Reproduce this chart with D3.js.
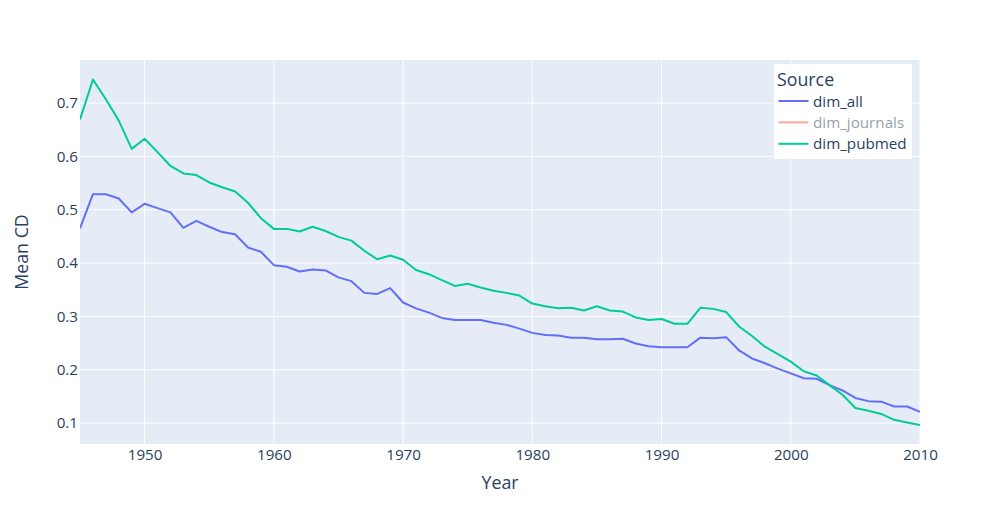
<!DOCTYPE html>
<html><head><meta charset="utf-8">
<script src="https://cdn.jsdelivr.net/npm/d3@7"></script>
<style>body{margin:0;background:#fff;}svg{display:block;font-family:"Open Sans",sans-serif;}</style>
</head><body><svg id="chart" width="1000" height="525"></svg>
<script>
const years = d3.range(1945, 2011);
const dimAll = [0.465,0.529,0.529,0.521,0.495,0.511,0.503,0.495,0.466,0.479,0.468,0.458,0.454,0.429,0.421,0.396,0.393,0.384,0.388,0.386,0.373,0.366,0.344,0.342,0.353,0.326,0.315,0.307,0.297,0.293,0.293,0.293,0.288,0.284,0.277,0.269,0.265,0.264,0.260,0.260,0.257,0.257,0.258,0.249,0.244,0.242,0.242,0.242,0.260,0.259,0.261,0.236,0.221,0.212,0.202,0.193,0.184,0.183,0.171,0.161,0.147,0.141,0.140,0.131,0.131,0.121];
const dimPubmed = [0.669,0.744,0.707,0.667,0.614,0.633,0.608,0.582,0.568,0.565,0.551,0.542,0.534,0.513,0.484,0.464,0.464,0.459,0.468,0.460,0.449,0.442,0.423,0.407,0.414,0.406,0.387,0.379,0.368,0.357,0.361,0.354,0.348,0.344,0.339,0.324,0.319,0.315,0.316,0.311,0.319,0.311,0.309,0.298,0.293,0.295,0.286,0.286,0.316,0.314,0.308,0.281,0.263,0.243,0.229,0.215,0.197,0.189,0.171,0.153,0.128,0.123,0.117,0.106,0.101,0.096];
const xTicks = [1950,1960,1970,1980,1990,2000,2010];
const yTicks = [0.1,0.2,0.3,0.4,0.5,0.6,0.7];
const seriesNames = ["dim_all","dim_journals","dim_pubmed"];
const seriesColors = ["#636efa","#EF553B","#00cc96"];
const seriesVisible = [true,false,true];

const svg = d3.select("#chart");
const L=80,R=920,T=60,B=444;
const x = d3.scaleLinear().domain([1945,2010]).range([L,R]);
const y = d3.scaleLinear().domain([0.0606,0.7807]).range([B,T]);
const textColor = "#2a3f5f";
const tickFs = 15.2, titleFs = 17.8;

svg.append("rect").attr("x",L).attr("y",T).attr("width",R-L).attr("height",B-T).attr("fill","#e5ecf6");
const gx = svg.append("g");
xTicks.forEach(t=>{
  gx.append("line").attr("x1",x(t)).attr("x2",x(t)).attr("y1",T).attr("y2",B).attr("stroke","#fff").attr("stroke-width",1);
});
yTicks.forEach(t=>{
  gx.append("line").attr("x1",L).attr("x2",R).attr("y1",y(t)).attr("y2",y(t)).attr("stroke","#fff").attr("stroke-width",1);
});

const xAxis = d3.axisBottom(x).tickValues(xTicks).tickFormat(d3.format("d")).tickSize(0).tickPadding(5);
const ax = svg.append("g").attr("transform",`translate(0,${B})`).call(xAxis);
ax.select(".domain").remove();
ax.selectAll("text").attr("font-size",tickFs).attr("fill",textColor).attr("font-family","'Open Sans',sans-serif");
const yAxis = d3.axisLeft(y).tickValues(yTicks).tickFormat(d3.format(".1f")).tickSize(0).tickPadding(2);
const ay = svg.append("g").attr("transform",`translate(${L},0)`).call(yAxis);
ay.select(".domain").remove();
ay.selectAll("text").attr("font-size",tickFs).attr("fill",textColor).attr("font-family","'Open Sans',sans-serif");

svg.append("text").attr("x",(L+R)/2).attr("y",489).attr("text-anchor","middle").attr("font-size",titleFs).attr("fill",textColor).text("Year");
svg.append("text").attr("transform",`translate(28,${(T+B)/2}) rotate(-90)`).attr("text-anchor","middle").attr("font-size",titleFs).attr("fill",textColor).text("Mean CD");

const line = d3.line().x((d,i)=>x(years[i])).y(d=>y(d));
svg.append("clipPath").attr("id","clip").append("rect").attr("x",L).attr("y",T).attr("width",R-L).attr("height",B-T);
const lines = svg.append("g").attr("clip-path","url(#clip)");
lines.append("path").datum(dimAll).attr("d",line).attr("fill","none").attr("stroke",seriesColors[0]).attr("stroke-width",2).attr("stroke-linejoin","round");
lines.append("path").datum(dimPubmed).attr("d",line).attr("fill","none").attr("stroke",seriesColors[2]).attr("stroke-width",2).attr("stroke-linejoin","round");

// legend
const lg = svg.append("g").attr("transform","translate(774,64)");
lg.append("rect").attr("width",138).attr("height",95).attr("fill","#fff");
lg.append("text").attr("x",3).attr("y",22).attr("font-size",titleFs).attr("fill",textColor).text("Source");
seriesNames.forEach((n,i)=>{
  const yy = 37 + i*21.4;
  const g = lg.append("g").attr("opacity",seriesVisible[i]?1:0.5);
  g.append("line").attr("x1",4.5).attr("x2",34.5).attr("y1",yy).attr("y2",yy).attr("stroke",seriesColors[i]).attr("stroke-width",2);
  g.append("text").attr("x",39).attr("y",yy+5.5).attr("font-size",tickFs).attr("fill",textColor).text(n);
});
</script></body></html>
